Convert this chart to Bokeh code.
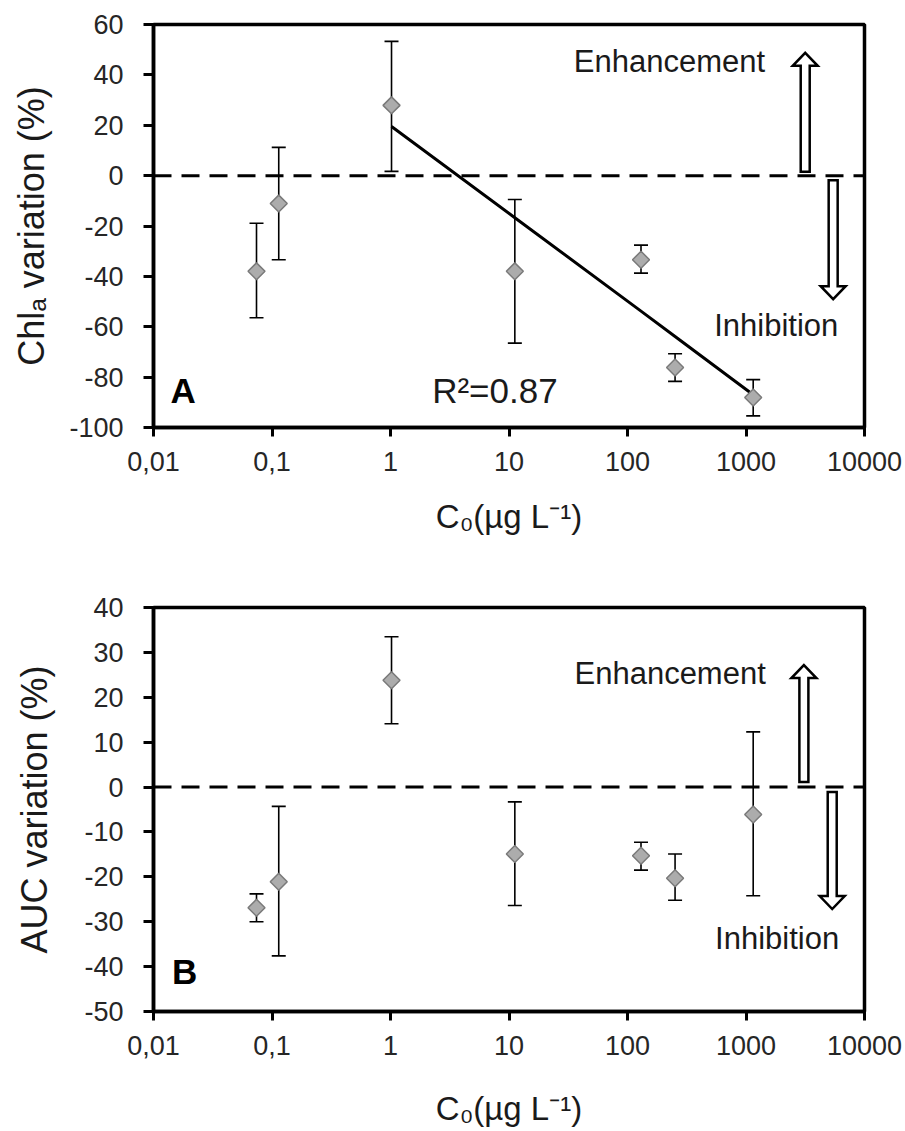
import numpy as np
from bokeh.plotting import figure
from bokeh.models import (ColumnDataSource, Whisker, TeeHead, Span, Label,
                          FixedTicker, CustomJSTickFormatter, Range1d)
from bokeh.layouts import column
from bokeh.embed import file_html
from bokeh.resources import INLINE

# ---------------- data ----------------
conc = [0.074, 0.114, 1.02, 11.2, 130, 252, 1150]          # C0, µg/L

chl_mean = [-38.0, -11.1, 27.9, -38.0, -33.4, -76.2, -88.1]
chl_upper = [-18.9, 11.2, 53.3, -9.5, -27.6, -70.7, -81.0]
chl_lower = [-56.4, -33.4, 1.7, -66.5, -38.7, -81.7, -95.4]

fit_conc = [1.02, 11.2, 130, 252, 1150]
fit_chl = [19.5, -16.7, -53.8, -63.9, -87.0]
r2_text = "R\u00b2=0.87"

auc_mean = [-26.9, -21.1, 23.8, -14.9, -15.3, -20.3, -6.1]
auc_upper = [-23.8, -4.3, 33.5, -3.3, -12.3, -14.9, 12.3]
auc_lower = [-30.0, -37.6, 14.1, -26.4, -18.5, -25.2, -24.2]

x_ticks = [0.01, 0.1, 1, 10, 100, 1000, 10000]
chl_ticks = [-100, -80, -60, -40, -20, 0, 20, 40, 60]
auc_ticks = [-50, -40, -30, -20, -10, 0, 10, 20, 30, 40]

x_label = "C\u2080(\u00b5g L\u207b\u00b9)"
chl_label = "Chl\u2090 variation (%)"
auc_label = "AUC variation (%)"

FONT = "Liberation Sans"
TICK_COLOR = "#262626"

x_fmt = CustomJSTickFormatter(code="return tick < 1 ? String(tick).replace('.', ',') : String(tick);")
y_fmt = CustomJSTickFormatter(code="return String(tick);")


def arrow(p, xc, y0, length_px, direction, ppd, ppu):
    w, hw, hl = 4.5, 12.5, 13.0
    L = length_px
    pts = [(-w, 0), (w, 0), (w, L - hl), (hw, L - hl), (0, L),
           (-hw, L - hl), (-w, L - hl)]
    xs = [xc * 10 ** (dx / ppd) for dx, dy in pts]
    ys = [y0 + direction * dy / ppu for dx, dy in pts]
    p.patch(xs, ys, fill_color="white", line_color="black", line_width=2.5,
            line_join="miter")


def make_panel(mean, upper, lower, yticks, ylabel, frame_h, border_top,
               border_bottom, border_left, ylabel_standoff, xlabel_standoff):
    fw = 711
    p = figure(x_axis_type="log", x_range=Range1d(0.01, 10000),
               y_range=Range1d(yticks[0], yticks[-1]),
               frame_width=fw, frame_height=frame_h,
               min_border_left=border_left, min_border_right=905 - border_left - fw,
               min_border_top=border_top, min_border_bottom=border_bottom,
               toolbar_location=None, output_backend="svg",
               background_fill_color="white", border_fill_color="white")
    p.grid.visible = False
    p.outline_line_color = "black"
    p.outline_line_width = 3.5
    p.outline_line_alpha = 1.0

    for ax in (p.xaxis[0], p.yaxis[0]):
        ax.axis_line_width = 3.5
        ax.axis_line_color = "black"
        ax.major_tick_line_width = 3
        ax.major_tick_line_color = "black"
        ax.major_tick_in = 0
        ax.minor_tick_line_color = None
        ax.major_label_text_font = FONT
        ax.major_label_text_font_size = "27px"
        ax.major_label_text_color = TICK_COLOR
        ax.axis_label_text_font = FONT
        ax.axis_label_text_font_style = "normal"
        ax.axis_label_text_color = "#1a1a1a"

    xa = p.xaxis[0]
    xa.ticker = FixedTicker(ticks=x_ticks, minor_ticks=[])
    xa.formatter = x_fmt
    xa.major_tick_out = 9
    xa.major_label_standoff = 15
    xa.axis_label = x_label
    xa.axis_label_text_font_size = "33px"
    xa.axis_label_standoff = xlabel_standoff

    ya = p.yaxis[0]
    ya.ticker = FixedTicker(ticks=yticks, minor_ticks=[])
    ya.formatter = y_fmt
    ya.major_tick_out = 10
    ya.major_label_standoff = 20
    ya.axis_label = ylabel
    ya.axis_label_text_font_size = "36px"
    ya.axis_label_standoff = ylabel_standoff

    p.add_layout(Span(location=0, dimension="width", line_color="black",
                      line_width=3, line_dash="18 10"))

    src = ColumnDataSource(dict(x=conc, y=mean, upper=upper, lower=lower))
    p.add_layout(Whisker(source=src, base="x", upper="upper", lower="lower",
                         line_color="black", line_width=1.6, level="underlay",
                         upper_head=TeeHead(size=14, line_width=1.6, line_color="black"),
                         lower_head=TeeHead(size=14, line_width=1.6, line_color="black")))
    return p, src


# ---------------- panel A ----------------
pA, srcA = make_panel(chl_mean, chl_upper, chl_lower, chl_ticks, chl_label,
                      frame_h=403, border_top=24, border_bottom=153,
                      border_left=147, ylabel_standoff=14, xlabel_standoff=24)
pA.line(fit_conc, fit_chl, line_color="black", line_width=3)
pA.scatter("x", "y", source=srcA, marker="square", angle=np.pi / 4, size=12,
           fill_color="#acacac", line_color="#7a7a7a", line_width=1.5)
ppuA = 403 / 160.0
arrow(pA, 3160, 1.5, 119, 1, 118.5, ppuA)
arrow(pA, 5440, -1.8, 119, -1, 118.5, ppuA)
pA.add_layout(Label(x=226, y=45.3, text="Enhancement", text_font=FONT,
                    text_font_size="31px", text_align="center",
                    text_baseline="alphabetic", text_color="#1a1a1a"))
pA.add_layout(Label(x=1800, y=-59.4, text="Inhibition", text_font=FONT,
                    text_font_size="31px", text_align="center",
                    text_baseline="alphabetic", text_color="#1a1a1a"))
pA.add_layout(Label(x=0.0139, y=-85.2, text="A", text_font=FONT,
                    text_font_size="35px", text_font_style="bold",
                    text_align="left", text_baseline="alphabetic", text_color="black"))
pA.add_layout(Label(x=7.6, y=-85.2, text=r2_text, text_font=FONT,
                    text_font_size="35px", text_align="center",
                    text_baseline="alphabetic", text_color="#1a1a1a"))

# ---------------- panel B ----------------
pB, srcB = make_panel(auc_mean, auc_upper, auc_lower, auc_ticks, auc_label,
                      frame_h=404, border_top=27, border_bottom=120,
                      border_left=153, ylabel_standoff=26, xlabel_standoff=32)
pB.scatter("x", "y", source=srcB, marker="square", angle=np.pi / 4, size=12,
           fill_color="#acacac", line_color="#7a7a7a", line_width=1.5)
ppuB = 404 / 90.0
arrow(pB, 3080, 1.1, 117, 1, 118.5, ppuB)
arrow(pB, 5340, -1.1, 117, -1, 118.5, ppuB)
pB.add_layout(Label(x=229, y=25.4, text="Enhancement", text_font=FONT,
                    text_font_size="31px", text_align="center",
                    text_baseline="alphabetic", text_color="#1a1a1a"))
pB.add_layout(Label(x=1830, y=-33.7, text="Inhibition", text_font=FONT,
                    text_font_size="31px", text_align="center",
                    text_baseline="alphabetic", text_color="#1a1a1a"))
pB.add_layout(Label(x=0.0143, y=-41.0, text="B", text_font=FONT,
                    text_font_size="35px", text_font_style="bold",
                    text_align="left", text_baseline="alphabetic", text_color="black"))

layout = column(pA, pB, spacing=0)
open("out.html", "w").write(file_html(layout, INLINE))
